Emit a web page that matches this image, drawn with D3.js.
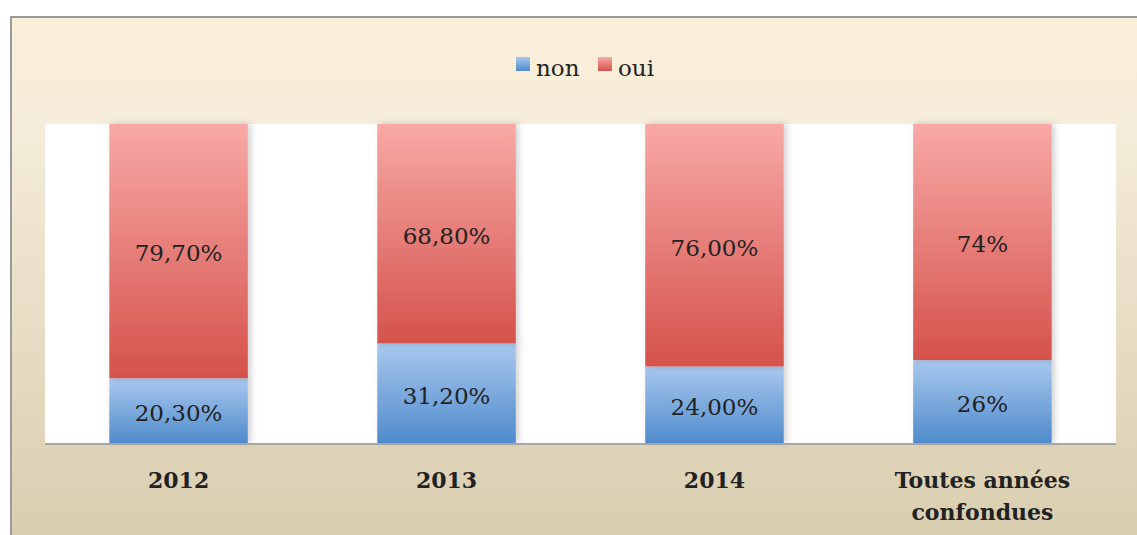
<!DOCTYPE html>
<html>
<head>
<meta charset="utf-8">
<script src="https://cdn.jsdelivr.net/npm/d3@7"></script>
<style>
  body { margin: 0; background: #fff; }
  text { font-family: "DejaVu Serif", "Liberation Serif", serif; fill: #222; }
</style>
</head>
<body>
<div id="container"></div>
<script>
// chart data
var categories = ["2012", "2013", "2014", "Toutes années confondues"];
var nonValues = [20.3, 31.2, 24.0, 26];
var ouiValues = [79.7, 68.8, 76.0, 74];
var nonLabels = ["20,30%", "31,20%", "24,00%", "26%"];
var ouiLabels = ["79,70%", "68,80%", "76,00%", "74%"];
var seriesNames = ["non", "oui"];

var width = 1137, height = 535;
var plot = {left: 45, right: 1116, top: 124, bottom: 443};

var svg = d3.select("#container").append("svg")
	.attr("width", width)
	.attr("height", height);

var defs = svg.append("defs");

var bg = defs.append("linearGradient").attr("id", "bgGrad")
	.attr("x1", 0).attr("y1", 0).attr("x2", 0).attr("y2", 1);
bg.append("stop").attr("offset", "0%").attr("stop-color", "#fbefda");
bg.append("stop").attr("offset", "20%").attr("stop-color", "#f5ecd9");
bg.append("stop").attr("offset", "100%").attr("stop-color", "#d8ccad");

var redGrad = defs.append("linearGradient").attr("id", "redGrad")
	.attr("x1", 0).attr("y1", 0).attr("x2", 0).attr("y2", 1);
redGrad.append("stop").attr("offset", "0%").attr("stop-color", "#f8a9a6");
redGrad.append("stop").attr("offset", "100%").attr("stop-color", "#d5524b");

var blueGrad = defs.append("linearGradient").attr("id", "blueGrad")
	.attr("x1", 0).attr("y1", 0).attr("x2", 0).attr("y2", 1);
blueGrad.append("stop").attr("offset", "0%").attr("stop-color", "#a9c8ee");
blueGrad.append("stop").attr("offset", "100%").attr("stop-color", "#4f8bcc");

var shadow = defs.append("filter").attr("id", "shadow")
	.attr("x", "-10%").attr("y", "-5%").attr("width", "130%").attr("height", "110%");
shadow.append("feDropShadow").attr("dx", 3).attr("dy", 0).attr("stdDeviation", 3)
	.attr("flood-color", "#000").attr("flood-opacity", 0.18);

// outer frame
svg.append("rect")
	.attr("x", 11).attr("y", 17)
	.attr("width", width + 10).attr("height", height + 10)
	.attr("fill", "url(#bgGrad)")
	.attr("stroke", "#9a9a9a").attr("stroke-width", 2);

// plot area
svg.append("rect")
	.attr("x", plot.left).attr("y", plot.top)
	.attr("width", plot.right - plot.left).attr("height", plot.bottom - plot.top)
	.attr("fill", "#fff");

var x = d3.scaleBand().domain(categories)
	.range([plot.left, plot.right]).paddingInner(0.483).paddingOuter(0.24);
var y = d3.scaleLinear().domain([0, 100]).range([plot.bottom, plot.top]);

var stackData = categories.map(function(c, i) {
	return {cat: c, non: nonValues[i], oui: ouiValues[i], nonLab: nonLabels[i], ouiLab: ouiLabels[i]};
});
var stack = d3.stack().keys(seriesNames)(stackData);

var fills = {non: "url(#blueGrad)", oui: "url(#redGrad)"};

var layers = svg.selectAll(".layer")
	.data(stack).enter()
	.append("g").attr("class", "layer");

layers.selectAll("rect")
	.data(function(s) { return s.map(function(d) { d.key = s.key; return d; }); })
	.enter().append("rect")
		.attr("x", function(d) { return x(d.data.cat); })
		.attr("y", function(d) { return y(d[1]); })
		.attr("width", x.bandwidth())
		.attr("height", function(d) { return y(d[0]) - y(d[1]); })
		.attr("fill", function(d) { return fills[d.key]; })
		.attr("filter", "url(#shadow)");

layers.selectAll("text")
	.data(function(s) { return s.map(function(d) { d.key = s.key; return d; }); })
	.enter().append("text")
		.attr("x", function(d) { return x(d.data.cat) + x.bandwidth() / 2; })
		.attr("y", function(d) { return (y(d[0]) + y(d[1])) / 2; })
		.attr("dy", "0.45em")
		.attr("text-anchor", "middle")
		.style("font-size", "23px")
		.text(function(d) { return d.key == "non" ? d.data.nonLab : d.data.ouiLab; });

// x axis line
svg.append("line")
	.attr("x1", plot.left).attr("x2", plot.right)
	.attr("y1", plot.bottom + 1).attr("y2", plot.bottom + 1)
	.attr("stroke", "#a6a6a6").attr("stroke-width", 2);

// category labels
var catLabels = svg.selectAll(".cat")
	.data(categories).enter()
	.append("text").attr("class", "cat")
	.attr("text-anchor", "middle")
	.style("font-size", "22px")
	.style("font-weight", "bold");

catLabels.each(function(d) {
	var t = d3.select(this);
	var cx = x(d) + x.bandwidth() / 2;
	var lines = d == "Toutes années confondues" ? ["Toutes années", "confondues"] : [d];
	lines.forEach(function(l, i) {
		t.append("tspan").attr("x", cx).attr("y", 488 + i * 32).text(l);
	});
});

// legend
var legend = svg.append("g").attr("class", "legend");
var legX = [516, 598];
var legColors = ["url(#blueGrad)", "url(#redGrad)"];
seriesNames.forEach(function(n, i) {
	legend.append("rect")
		.attr("x", legX[i]).attr("y", 57)
		.attr("width", 14).attr("height", 14)
		.attr("fill", legColors[i]);
	legend.append("text")
		.attr("x", legX[i] + 20).attr("y", 76)
		.style("font-size", "23px")
		.text(n);
});
</script>
</body>
</html>
